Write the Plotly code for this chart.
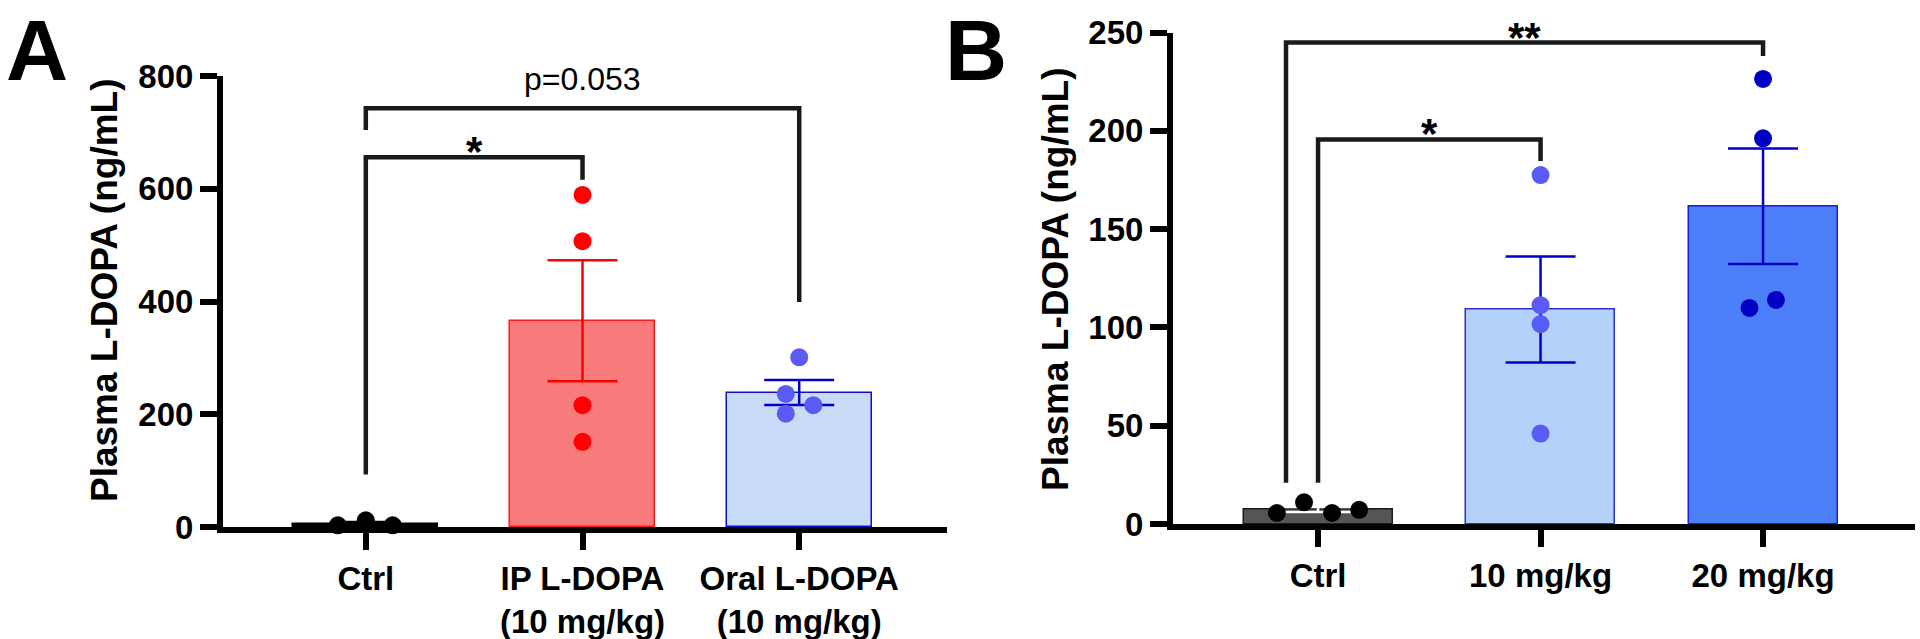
import numpy as np
import plotly.graph_objects as go

# ---------------- data ----------------
a_labels = ["Ctrl", "IP L-DOPA<br>(10 mg/kg)", "Oral L-DOPA<br>(10 mg/kg)"]
a_ctrl = [3, 12, 3]
a_ip = [589, 507, 216, 151]
a_oral = [301, 236, 216, 201]

b_labels = ["Ctrl", "10 mg/kg", "20 mg/kg"]
b_ctrl = [5.6, 11.0, 5.6, 7.2]
b_10 = [177.5, 111.3, 101.7, 46.0]
b_20 = [226.4, 196.2, 114.0, 109.9]

a_yticks = [0, 200, 400, 600, 800]
b_yticks = [0, 50, 100, 150, 200, 250]

# beeswarm offsets (category units)
a_jit = [[-0.129, 0, 0.124], [0, 0, 0, 0], [0, -0.062, 0.065, -0.062]]
b_jit = [[-0.185, -0.063, 0.063, 0.185], [0, 0, 0, 0], [0, 0, 0.058, -0.061]]

# significance brackets: (x_left, x_right, top, left_leg_bottom, right_leg_bottom, label)
a_brackets = [(0, 1, 656, 93, 616, "*"), (0, 2, 743, 704, 399, "p=0.053")]
b_brackets = [(0, 1, 195.6, 21, 184.7, "*"), (-0.144, 2, 244.9, 21, 238, "**")]

# ---------------- styles ----------------
FONT = "Liberation Sans, Arial, sans-serif"
a_fill = ["#000000", "#F87B7B", "#C8DCF8"]
a_edge = ["#000000", "#FF1A1A", "#1010CC"]
a_pts = ["#000000", "#FF0000", "#5A5AF5"]
a_err = ["#000000", "#FF0000", "#0000CC"]
b_fill = ["#555555", "#B3D1F9", "#4E7FFB"]
b_edge = ["#1A1A1A", "#2D2DDB", "#1A1AD8"]
b_pts = ["#000000", "#5A5AF5", "#0000C4"]
b_err = ["#FFFFFF", "#0000CC", "#0000CC"]

W, H = 1920, 639
fig = go.Figure()


def sem(v):
    v = np.asarray(v, dtype=float)
    return float(v.std(ddof=1) / np.sqrt(len(v)))


def add_panel(groups, fills, edges, ptc, errc, jit, xa, ya):
    for i, vals in enumerate(groups):
        fig.add_trace(go.Bar(
            x=[i], y=[float(np.mean(vals))], width=0.67,
            marker=dict(color=fills[i], line=dict(color=edges[i], width=1.5)),
            error_y=dict(type="data", array=[sem(vals)], visible=True,
                         color=errc[i], thickness=2.5, width=35),
            xaxis=xa, yaxis=ya, showlegend=False, cliponaxis=False))
    for i, vals in enumerate(groups):
        fig.add_trace(go.Scatter(
            x=[i + d for d in jit[i]], y=vals, mode="markers",
            marker=dict(color=ptc[i], size=18, line=dict(width=0)),
            xaxis=xa, yaxis=ya, showlegend=False, cliponaxis=False))


add_panel([a_ctrl, a_ip, a_oral], a_fill, a_edge, a_pts, a_err, a_jit, "x", "y")
add_panel([b_ctrl, b_10, b_20], b_fill, b_edge, b_pts, b_err, b_jit, "x2", "y2")

annotations = []


def add_brackets(brs, xa, ya):
    for xl, xr, top, lb, rb, lab in brs:
        fig.add_trace(go.Scatter(
            x=[xl, xl, xr, xr], y=[lb, top, top, rb], mode="lines",
            line=dict(color="#1A1A1A", width=4.5), xaxis=xa, yaxis=ya,
            showlegend=False, hoverinfo="skip", cliponaxis=False))
        if lab.startswith("p"):
            annotations.append(dict(x=(xl + xr) / 2, y=top, xref=xa, yref=ya,
                                    text=lab, showarrow=False, yanchor="bottom",
                                    yshift=9, font=dict(family=FONT, size=32, color="black")))
        else:
            annotations.append(dict(x=(xl + xr) / 2, y=top, xref=xa, yref=ya,
                                    text="<b>" + lab + "</b>", showarrow=False,
                                    yanchor="bottom", yshift=-20,
                                    font=dict(family=FONT, size=42, color="black")))


add_brackets(a_brackets, "x", "y")
add_brackets(b_brackets, "x2", "y2")

# panel letters and axis titles
annotations += [
    dict(text="<b>A</b>", x=4 / W, y=1, xref="paper", yref="paper", xanchor="left",
         yanchor="top", showarrow=False, font=dict(family=FONT, size=86, color="black")),
    dict(text="<b>B</b>", x=943 / W, y=1, xref="paper", yref="paper", xanchor="left",
         yanchor="top", showarrow=False, font=dict(family=FONT, size=86, color="black")),
    dict(text="<b>Plasma L-DOPA (ng/mL)</b>", x=104 / W, y=1 - 291 / H, xref="paper",
         yref="paper", textangle=-90, showarrow=False, xanchor="center", yanchor="middle",
         font=dict(family=FONT, size=37, color="black")),
    dict(text="<b>Plasma L-DOPA (ng/mL)</b>", x=1055 / W, y=1 - 280 / H, xref="paper",
         yref="paper", textangle=-90, showarrow=False, xanchor="center", yanchor="middle",
         font=dict(family=FONT, size=37, color="black")),
]

tickfont = dict(family=FONT, size=33, color="black", weight="bold")
xcommon = dict(showline=True, linewidth=6, linecolor="black", ticks="outside",
               ticklen=17, tickwidth=6, tickcolor="black", showgrid=False,
               zeroline=False, tickfont=tickfont, tickvals=[0, 1, 2], automargin=False)
ycommon = dict(showline=True, linewidth=6, linecolor="black", ticks="outside",
               ticklen=17, tickwidth=6, tickcolor="black", showgrid=False,
               zeroline=False, tickfont=tickfont, automargin=False)

fig.update_layout(
    width=W, height=H, margin=dict(l=0, r=0, t=0, b=0, autoexpand=False),
    paper_bgcolor="white", plot_bgcolor="white", bargap=0,
    xaxis=dict(domain=[223 / W, 947 / W], range=[-0.659, 2.682], anchor="y",
               ticktext=a_labels, **xcommon),
    yaxis=dict(domain=[1 - 527 / H, 1 - 76 / H], range=[0, 800], anchor="x",
               tickvals=a_yticks, **ycommon),
    xaxis2=dict(domain=[1173 / W, 1915 / W], range=[-0.652, 2.683], anchor="y2",
                ticktext=b_labels, **xcommon),
    yaxis2=dict(domain=[1 - 524 / H, 1 - 32.5 / H], range=[0, 250], anchor="x2",
                tickvals=b_yticks, **ycommon),
    annotations=annotations,
)

fig.write_html("out.html", config={"displayModeBar": False},
               post_script="document.body.style.margin='0';document.body.style.overflow='hidden';")
